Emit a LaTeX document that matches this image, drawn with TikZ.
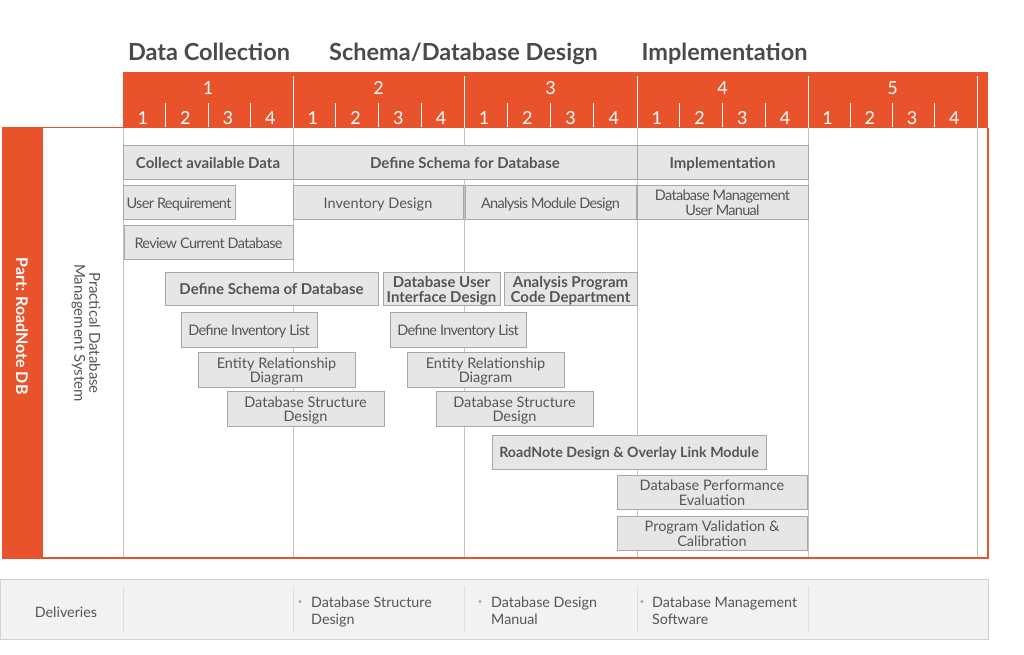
\documentclass[tikz,border=0pt]{standalone}
\usepackage{fontspec}
\setmainfont{Lato}
\definecolor{org}{HTML}{E8532B}
\definecolor{txt}{HTML}{555555}
\definecolor{ttl}{HTML}{4A4A4A}
\definecolor{boxfill}{HTML}{E6E6E6}
\definecolor{boxdraw}{HTML}{A8A8A8}
\definecolor{grid}{HTML}{C4C4C4}
\definecolor{delfill}{HTML}{F2F2F2}
\definecolor{deldraw}{HTML}{D2D2D2}
\newcommand\gbox[7]{\node[#6, minimum width={(#4-#2)*1pt}, minimum height={(#5-#3)*1pt}] (#1) at ({(#2+#4)/2},{(#3+#5)/2}) {\raisebox{-2.8pt}[\height][\depth]{\begin{tabular}{@{}c@{}}#7\end{tabular}}};}
\begin{document}
\begin{tikzpicture}[x=1pt,y=-1pt,
  box/.style={draw=boxdraw, fill=boxfill, line width=0.9pt, inner sep=0pt, text=txt, font=\fontsize{14.5}{13.5}\selectfont\addfontfeatures{LetterSpace=-4.8}},
  wbox/.style={box, font=\fontsize{14.5}{13.5}\selectfont},
  bbox/.style={box, font=\fontsize{15}{14}\selectfont\bfseries},
  title/.style={text=ttl, font=\fontsize{23.5}{26}\selectfont\bfseries, inner sep=0pt, anchor=base},
  hnum/.style={text=white, font=\fontsize{18}{18}\selectfont, inner sep=0pt},
  gridline/.style={draw=grid, line width=0.9pt},
  deltext/.style={text=txt, font=\fontsize{14.3}{17}\selectfont, align=left, inner sep=0pt, anchor=north west}
]
\useasboundingbox (0,0) rectangle (1024,654);
% titles
\node[title] (t1) at (209,60) {Data Collection};
\node[title] (t2) at (463.5,60) {Schema/Database Design};
\node[title] (t3) at (724.5,60) {Implementation};
% header band
\fill[org] (123,72) rectangle (988,128);
\foreach \a/\b/\n in {123/293/1, 293/464/2, 464/637/3, 637/808/4, 808/977/5}{
  \node[hnum] (h\n) at ({(\a+\b)/2},88) {\n};
  \foreach \k in {1,2,3,4}{
    \node[hnum] (s\n\k) at ({\a+(\k-0.5)*(\b-\a)/4-1.5},118) {\k};
  }
  \foreach \k in {1,2,3}{
    \draw[white, line width=0.8pt] ({\a+\k*(\b-\a)/4},103) -- ({\a+\k*(\b-\a)/4},127);
  }
  \draw[white, line width=0.8pt] (\b,76) -- (\b,128);
}
% body frame
\fill[org] (2,127) rectangle (43,558);
\draw[org, line width=1.5pt] (43,127.5) -- (123,127.5);
\draw[org, line width=1.5pt] (988,128) -- (988,558) -- (2,558);
\foreach \x in {123,293,464,637,808,977}{
  \draw[gridline] (\x,128) -- (\x,557);
}
\node[rotate=-90, text=white, font=\fontsize{16}{18}\selectfont\bfseries, inner sep=0pt] (part) at (22,326) {Part: RoadNote DB};
\node[rotate=-90, text=txt, align=center, font=\fontsize{15}{15}\selectfont, inner sep=0pt] (pdms) at (86,333) {Practical Database\\Management System};
% boxes
\gbox{b1}{123}{145}{293}{179}{bbox}{Collect available Data}
\gbox{b2}{293}{145}{637}{179}{bbox}{Define Schema for Database}
\gbox{b3}{637}{145}{808}{179}{bbox}{Implementation}
\gbox{b4}{123}{185}{235}{219}{box}{User Requirement}
\gbox{b5}{293}{185}{463}{219}{wbox}{Inventory Design}
\gbox{b6}{465}{185}{636}{219}{box}{Analysis Module Design}
\gbox{b7}{637}{185}{808}{219}{box}{Database Management\\User Manual}
\gbox{b8}{124}{225}{293}{259}{box}{Review Current Database}
\gbox{b9}{165}{272}{378}{305}{bbox}{Define Schema of Database}
\gbox{b10}{181}{312}{317}{347}{box}{Define Inventory List}
\gbox{b11}{198}{352}{355}{387}{wbox}{Entity Relationship\\Diagram}
\gbox{b12}{227}{391}{384}{426}{wbox}{Database Structure\\Design}
\gbox{b13}{383}{272}{500}{305}{bbox}{Database User\\Interface Design}
\gbox{b14}{504}{272}{637}{305}{bbox}{Analysis Program\\Code Department}
\gbox{b15}{390}{312}{526}{347}{box}{Define Inventory List}
\gbox{b16}{407}{352}{564}{387}{wbox}{Entity Relationship\\Diagram}
\gbox{b17}{436}{391}{593}{426}{wbox}{Database Structure\\Design}
\gbox{b18}{492}{435}{766}{469}{bbox, font=\fontsize{14.2}{14}\selectfont\bfseries}{RoadNote Design \& Overlay Link Module}
\gbox{b19}{617}{475}{807}{509}{wbox}{Database Performance\\Evaluation}
\gbox{b20}{617}{516}{807}{550}{wbox}{Program Validation \&\\Calibration}
% deliveries
\draw[draw=deldraw, fill=delfill, line width=0.9pt] (0,579) rectangle (988,639);
\foreach \x in {123,293,464,637,808}{
  \draw[draw=deldraw!70, line width=0.6pt] (\x,586) -- (\x,632);
}
\node[text=txt, font=\fontsize{14.3}{17}\selectfont, inner sep=0pt] (del) at (66,612) {Deliveries};
\fill[gray!70] (300,601.5) circle (1.6);
\node[deltext] (d1) at (311,597) {Database Structure\\Design};
\fill[gray!70] (480,601.5) circle (1.6);
\node[deltext] (d2) at (491,597) {Database Design\\Manual};
\fill[gray!70] (642,601.5) circle (1.6);
\node[deltext] (d3) at (652,597) {Database Management\\Software};
\end{tikzpicture}
\end{document}
